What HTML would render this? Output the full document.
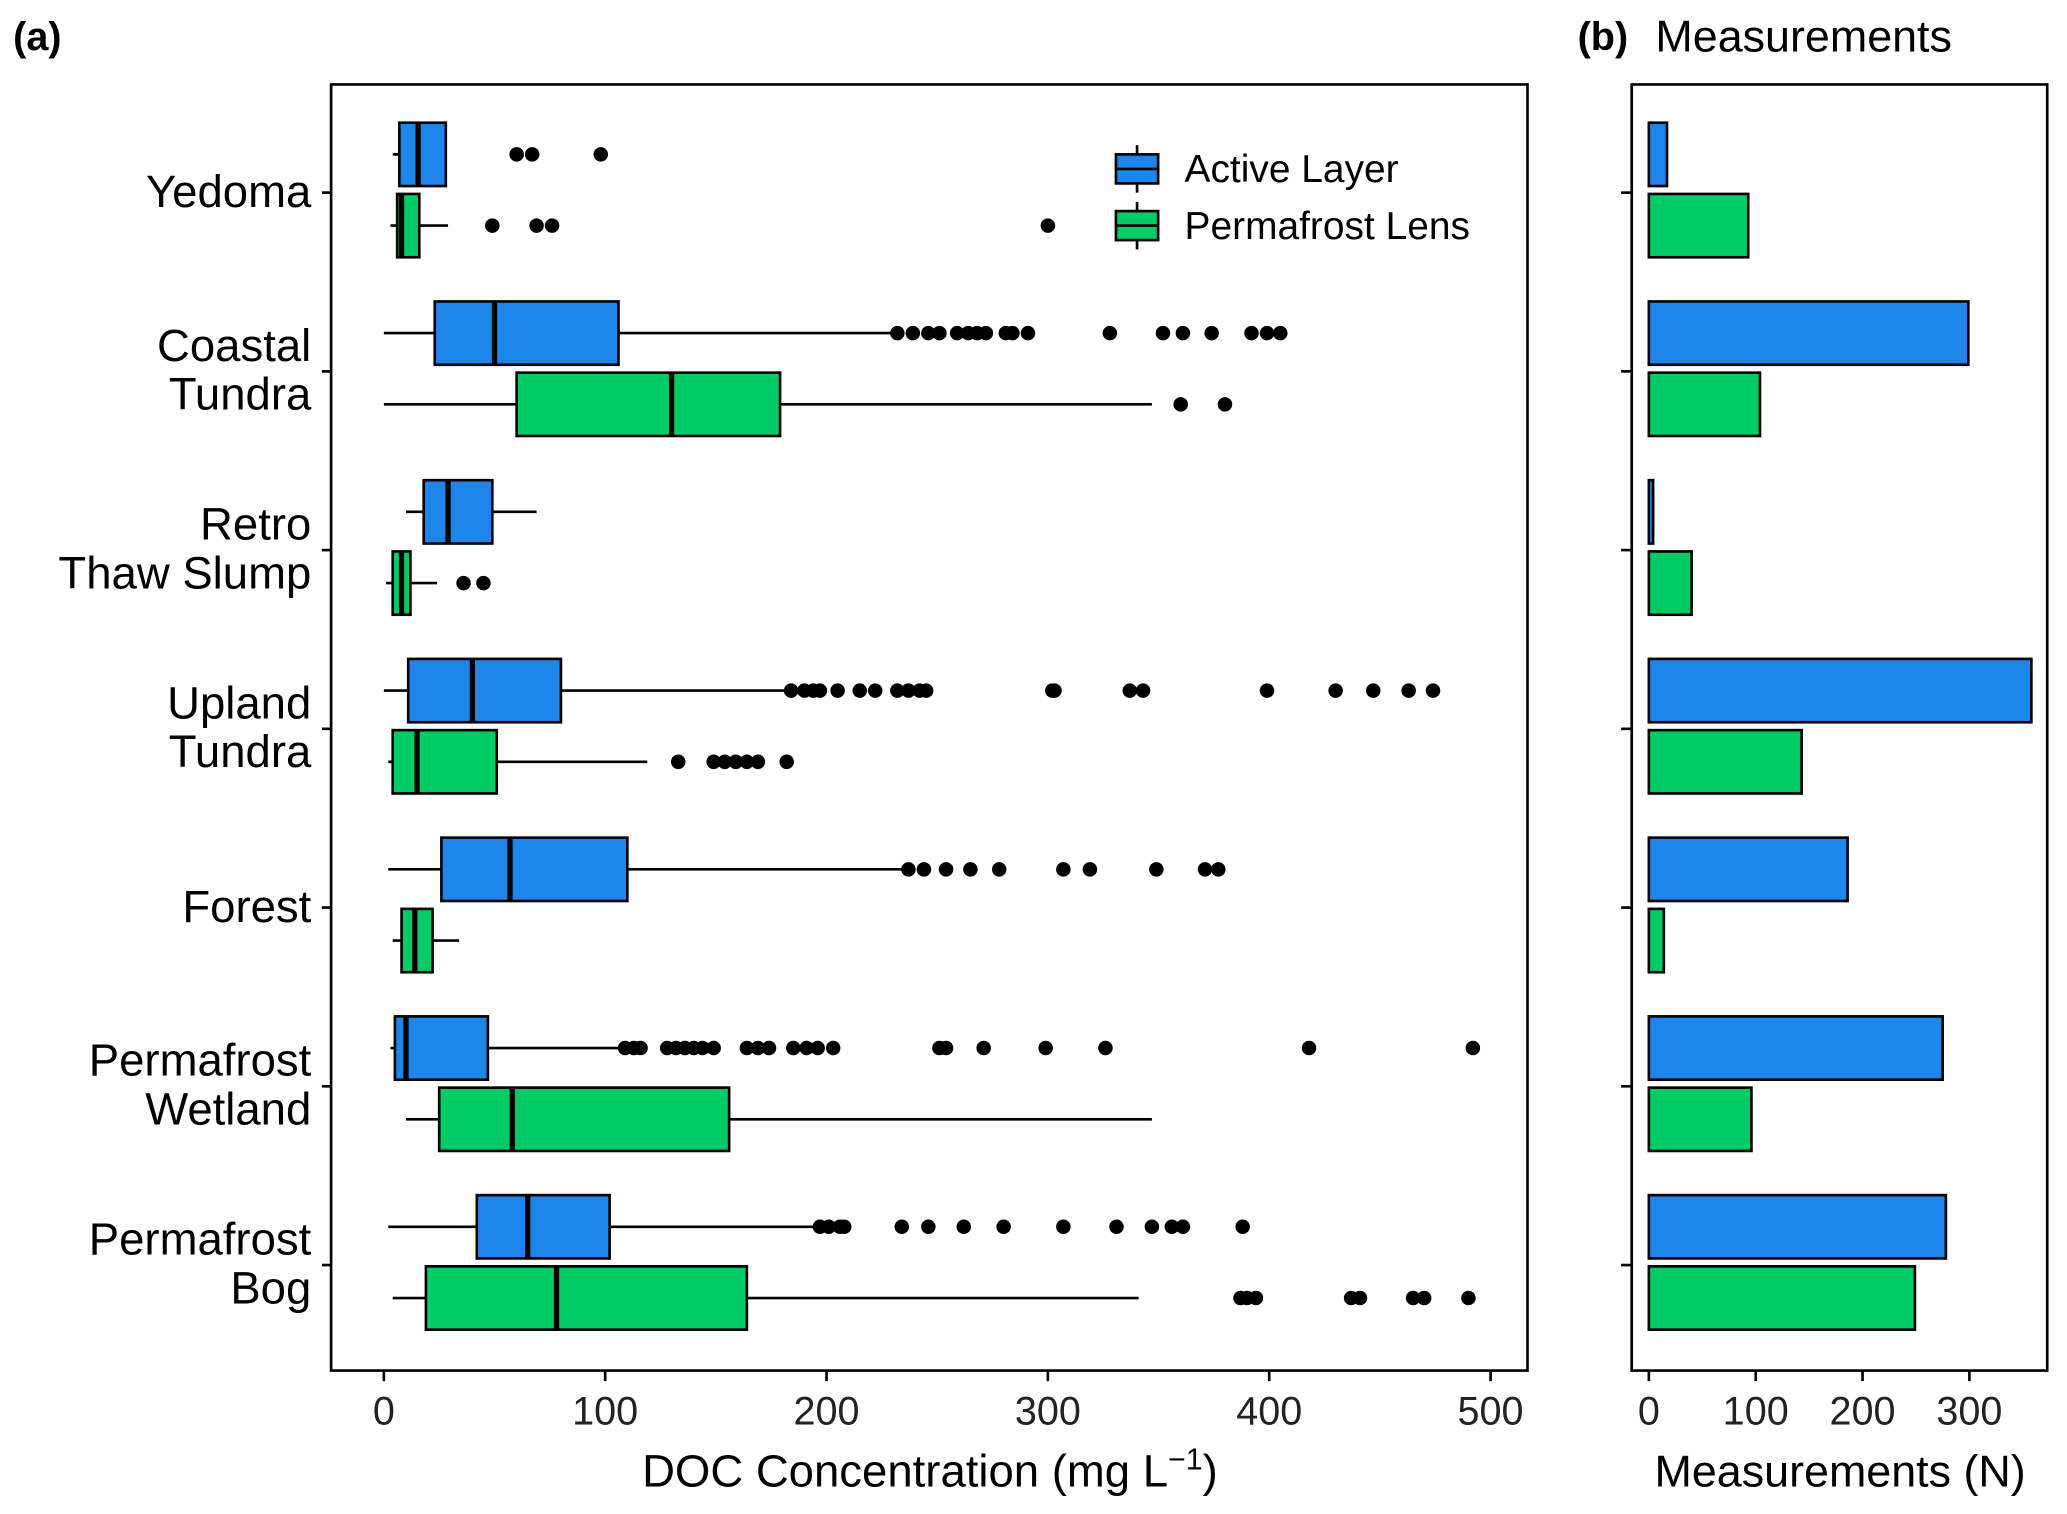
<!DOCTYPE html>
<html><head><meta charset="utf-8"><style>
html,body{margin:0;padding:0;background:#fff;}
svg{display:block;font-family:"Liberation Sans",sans-serif;}
</style></head><body>
<svg id="chart" width="2067" height="1514" viewBox="0 0 1567 1147.7" xmlns="http://www.w3.org/2000/svg">
<rect x="0" y="0" width="1567" height="1148" fill="#fff"/>
<g id="pa"></g><g id="pb"></g>
</svg>
<script>
const categories=["Yedoma","Coastal Tundra","Retro Thaw Slump","Upland Tundra","Forest","Permafrost Wetland","Permafrost Bog"];
const catLines=[["Yedoma"],["Coastal","Tundra"],["Retro","Thaw Slump"],["Upland","Tundra"],["Forest"],["Permafrost","Wetland"],["Permafrost","Bog"]];
// [whiskerLow, q1, median, q3, whiskerHigh]
const activeStats=[[4,7,15.5,28,28],[0,23,50,106,230],[10,18,29,49,69],[0,11,40,80,184],[2,26,57,110,237],[3,5,10,47,109],[2,42,65,102,196]];
const lensStats=[[3,6,8,16,29],[0,60,130,179,347],[1,4,8,12,24],[2,4,15,51,119],[4,8,14,22,34],[10,25,58,156,347],[4,19,78,164,341]];
const activeOut=[[60,67,98],[232,239,246,251,259,264,268,272,281,284,291,328,352,361,374,392,399,405],[],[184,190,194,197,205,215,222,232,237,242,245,302,303,337,343,399,430,447,463,474],[237,244,254,265,278,307,319,349,371,377],[109,113,116,128,132,136,140,144,149,164,169,174,185,191,196,203,251,254,271,299,326,418,492],[197,201,206,208,234,246,262,280,307,331,347,356,361,388]];
const lensOut=[[49,69,76,300],[360,380],[36,45],[133,149,154,159,164,169,182],[],[],[387,390,394,437,441,465,470,490]];
const activeN=[17,299,4,358,186,275,278];
const lensN=[93,104,40,143,14,96,249];
const xTicks=[0,100,200,300,400,500];
const nTicks=[0,100,200,300];
const BLUE="#1e86eb",GREEN="#00cc66";
const NS="http://www.w3.org/2000/svg";
function mk(p,tag,at,txt){const e=document.createElementNS(NS,tag);for(const k in at)e.setAttribute(k,at[k]);if(txt!=null)e.textContent=txt;p.appendChild(e);return e;}
const xA=v=>291+v*1.678;
const xB=v=>1250+v*0.81;
const yC=i=>146+i*135.5;
const pa=document.getElementById('pa'),pb=document.getElementById('pb');
let t=mk(pa,'text',{x:10,y:38,'font-size':30,'font-weight':'bold'},'(a)');

t=mk(pb,'text',{x:1196,y:38,'font-size':30,'font-weight':'bold'},'(b)');

t=mk(pb,'text',{x:1255,y:39,'font-size':34},'Measurements');

let f=mk(pa,'rect',{x:251,y:64,width:907,height:975,fill:'none',stroke:'#000','stroke-width':2});

f=mk(pb,'rect',{x:1237,y:64,width:315,height:975,fill:'none',stroke:'#000','stroke-width':2});

xTicks.forEach(v=>{mk(pa,'line',{x1:xA(v),x2:xA(v),y1:1039,y2:1047,stroke:'#000','stroke-width':2});
 const l=mk(pa,'text',{x:xA(v),y:1080,'font-size':30,'text-anchor':'middle',fill:'#222'},v);
 });
nTicks.forEach(v=>{mk(pb,'line',{x1:xB(v),x2:xB(v),y1:1039,y2:1047,stroke:'#000','stroke-width':2});
 const l=mk(pb,'text',{x:xB(v),y:1080,'font-size':30,'text-anchor':'middle',fill:'#222'},v);
 });
t=mk(pa,'text',{x:705,y:1127,'font-size':34.5,'text-anchor':'middle'});

t.innerHTML='DOC Concentration (mg L<tspan dy="-13" font-size="23">−1</tspan><tspan dy="13">)</tspan>';
t=mk(pb,'text',{x:1395,y:1127,'font-size':34,'text-anchor':'middle'},'Measurements (N)');

function box(g,s,outs,yc,col,name){
 const gg=mk(g,'g',{});
 mk(gg,'line',{x1:xA(s[0]),x2:xA(s[4]),y1:yc,y2:yc,stroke:'#000','stroke-width':2});
 mk(gg,'rect',{x:xA(s[1]),y:yc-24,width:xA(s[3])-xA(s[1]),height:48,fill:col,stroke:'#000','stroke-width':2});
 mk(gg,'line',{x1:xA(s[2]),x2:xA(s[2]),y1:yc-24,y2:yc+24,stroke:'#000','stroke-width':4});
 outs.forEach(v=>{const c=mk(gg,'circle',{cx:xA(v),cy:yc,r:5.5,fill:'#000'});
  });
}
categories.forEach((c,i)=>{
 const y=yC(i);
 mk(pa,'line',{x1:244,x2:251,y1:y,y2:y,stroke:'#000','stroke-width':2});
 mk(pb,'line',{x1:1229,x2:1237,y1:y,y2:y,stroke:'#000','stroke-width':2});
 const lines=catLines[i];
 lines.forEach((ln,k)=>{const yy=lines.length==1?y+11:y-19+k*37+11;
  const l=mk(pa,'text',{x:236,y:yy,'font-size':34.5,'text-anchor':'end'},ln);
  });
 box(pa,activeStats[i],activeOut[i],y-29,BLUE,'box-active');
 box(pa,lensStats[i],lensOut[i],y+25,GREEN,'box-lens');
 let b=mk(pb,'rect',{x:xB(0),y:y-29-24,width:xB(activeN[i])-xB(0),height:48,fill:BLUE,stroke:'#000','stroke-width':2});
 
 b=mk(pb,'rect',{x:xB(0),y:y+25-24,width:xB(lensN[i])-xB(0),height:48,fill:GREEN,stroke:'#000','stroke-width':2});
 
});
[["Active Layer",BLUE,128],["Permafrost Lens",GREEN,171]].forEach(([lab,col,y])=>{
 const g=mk(pa,'g',{});
 mk(g,'line',{x1:862,x2:862,y1:y-18,y2:y+18,stroke:'#000','stroke-width':2});
 mk(g,'rect',{x:846,y:y-11,width:32,height:22,fill:col,stroke:'#000','stroke-width':2});
 mk(g,'line',{x1:846,x2:878,y1:y,y2:y,stroke:'#000','stroke-width':2});
 mk(g,'text',{x:898,y:y+10,'font-size':29.5},lab);
});
</script>
</body></html>
